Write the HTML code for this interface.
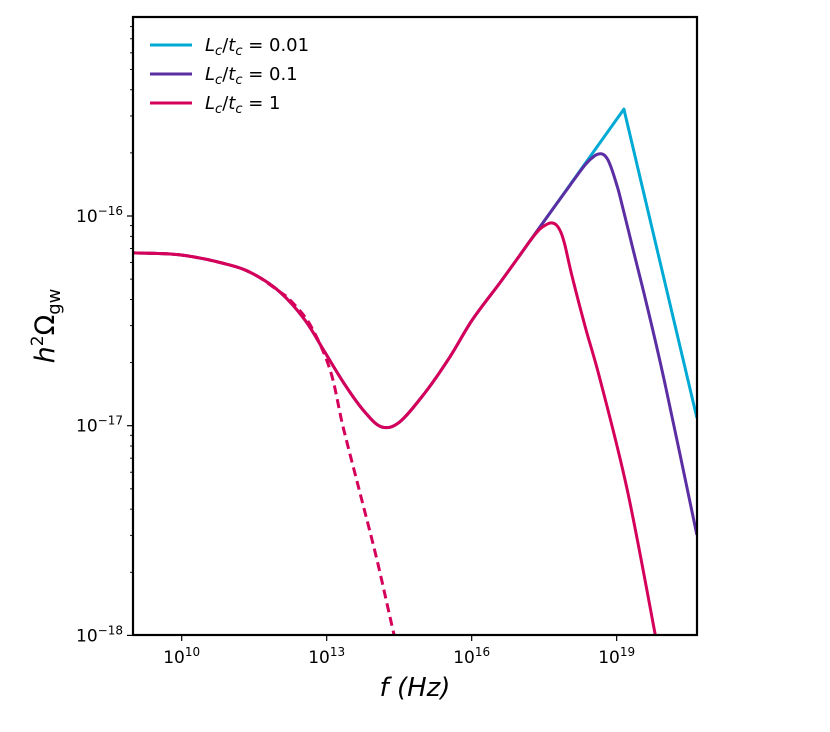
<!DOCTYPE html>
<html><head><meta charset="utf-8"><style>
body{margin:0;background:#fff;}
svg{display:block;font-family:"DejaVu Sans","Liberation Sans",sans-serif;}
</style></head><body>
<svg id="chart" width="830" height="732" viewBox="0 0 830 732" xmlns="http://www.w3.org/2000/svg">
<defs><clipPath id="plotclip"><rect x="133" y="17" width="564" height="618"/></clipPath></defs>
<rect x="0" y="0" width="830" height="732" fill="#fff"/>
<g id="ticks"></g>
<g id="series" clip-path="url(#plotclip)"></g>
<rect x="133" y="17" width="564" height="618" fill="none" stroke="#000" stroke-width="2.2"/>
<text transform="translate(54,326) rotate(-90)" text-anchor="middle" font-size="27"><tspan font-style="italic">h</tspan><tspan font-size="17" dy="-11">2</tspan><tspan dy="11">Ω</tspan><tspan font-size="18" dy="6">gw</tspan></text>
<text x="415" y="696" text-anchor="middle" font-size="26" font-style="italic">f (Hz)</text>
<g font-size="18">
<g><line x1="150" y1="45" x2="192" y2="45" stroke="#00aad4" stroke-width="3"/><text x="205" y="51"><tspan font-style="italic">L</tspan><tspan font-style="italic" font-size="13" dy="4">c</tspan><tspan dy="-4">/</tspan><tspan font-style="italic">t</tspan><tspan font-style="italic" font-size="13" dy="4">c</tspan><tspan dy="-4"> = 0.01</tspan></text></g>
<g><line x1="150" y1="74" x2="192" y2="74" stroke="#5b2ea3" stroke-width="3"/><text x="205" y="80"><tspan font-style="italic">L</tspan><tspan font-style="italic" font-size="13" dy="4">c</tspan><tspan dy="-4">/</tspan><tspan font-style="italic">t</tspan><tspan font-style="italic" font-size="13" dy="4">c</tspan><tspan dy="-4"> = 0.1</tspan></text></g>
<g><line x1="150" y1="103" x2="192" y2="103" stroke="#d4005a" stroke-width="3"/><text x="205" y="109"><tspan font-style="italic">L</tspan><tspan font-style="italic" font-size="13" dy="4">c</tspan><tspan dy="-4">/</tspan><tspan font-style="italic">t</tspan><tspan font-style="italic" font-size="13" dy="4">c</tspan><tspan dy="-4"> = 1</tspan></text></g>
</g>
</svg>
<script>
// data in log10 units
const commonLogF = [8.99,9.99,11.0,11.52,12.03,12.55,12.96,13.38,13.79,14.14,14.51,15.03,15.55,16.01,16.58,17.0];
const commonLogY = [-16.176,-16.186,-16.234,-16.281,-16.362,-16.496,-16.649,-16.806,-16.935,-17.006,-16.982,-16.844,-16.672,-16.496,-16.320,-16.186];
const cyanLogF = [17.0,17.83,19.15,20.66];
const cyanLogY = [-16.186,-15.918,-15.490,-16.963];
const purpleLogF = [17.0,17.52,18.03,18.35,18.55,18.66,18.74,18.82,18.905,18.99,19.07,19.35,19.62,20.0,20.66];
const purpleLogY = [-16.186,-16.018,-15.855,-15.755,-15.712,-15.703,-15.709,-15.733,-15.781,-15.843,-15.909,-16.17,-16.42,-16.80,-17.521];
const magentaLogF = [17.0,17.21,17.40,17.55,17.66,17.76,17.85,17.93,18.08,18.35,18.66,19.22,19.80];
const magentaLogY = [-16.186,-16.118,-16.065,-16.04,-16.033,-16.045,-16.08,-16.14,-16.29,-16.53,-16.782,-17.307,-17.998];
const dashedLogF = [8.99,9.99,11.0,11.52,12.03,12.24,12.66,13.07,13.34,13.69,14.04,14.37,14.45];
const dashedLogY = [-16.176,-16.186,-16.234,-16.281,-16.362,-16.40,-16.52,-16.734,-17.006,-17.321,-17.640,-17.974,-18.05];
const xTickExps = [10,13,16,19];
const yTickExps = [-16,-17,-18];

const NS="http://www.w3.org/2000/svg";
function xs(L){return 181.7+(L-10)*48.33;}
function ys(L){return 216+(-16-L)*209.7;}
const series=document.getElementById('series');
const ticks=document.getElementById('ticks');
function path(fx,fy,color,dash,name,smooth){
  const p=document.createElementNS(NS,'path');
  const P=fx.map((f,i)=>[xs(f),ys(fy[i])]);
  let d='M'+P[0][0].toFixed(1)+','+P[0][1].toFixed(1);
  for(let i=0;i<P.length-1;i++){
    if(!smooth){d+='L'+P[i+1][0].toFixed(1)+','+P[i+1][1].toFixed(1);continue;}
    const p0=P[Math.max(0,i-1)],p1=P[i],p2=P[i+1],p3=P[Math.min(P.length-1,i+2)];
    const c1=[p1[0]+(p2[0]-p0[0])/6,p1[1]+(p2[1]-p0[1])/6];
    const c2=[p2[0]-(p3[0]-p1[0])/6,p2[1]-(p3[1]-p1[1])/6];
    d+='C'+c1[0].toFixed(1)+','+c1[1].toFixed(1)+' '+c2[0].toFixed(1)+','+c2[1].toFixed(1)+' '+p2[0].toFixed(1)+','+p2[1].toFixed(1);
  }
  p.setAttribute('d',d);p.setAttribute('fill','none');p.setAttribute('stroke',color);
  p.setAttribute('stroke-width','3');p.setAttribute('stroke-linejoin','round');
  if(dash)p.setAttribute('stroke-dasharray',dash);
  
  
  series.appendChild(p);
}
path(cyanLogF,cyanLogY,'#00aad4',null,'line-lc-0.01',false);
path(commonLogF.concat(purpleLogF.slice(1)),commonLogY.concat(purpleLogY.slice(1)),'#5b2ea3',null,'line-lc-0.1',true);
path(commonLogF.concat(magentaLogF.slice(1)),commonLogY.concat(magentaLogY.slice(1)),'#d4005a',null,'line-lc-1',true);
path(dashedLogF,dashedLogY,'#d4005a','9,5','dashed-line-lc-1',true);
function mk(tag,attrs){const e=document.createElementNS(NS,tag);for(const k in attrs)e.setAttribute(k,attrs[k]);ticks.appendChild(e);return e;}
xTickExps.forEach(e=>{
  const x=xs(e);
  const t=mk('line',{x1:x,y1:635,x2:x,y2:641,stroke:'#000','stroke-width':1.2});
  
  
  const tx=mk('text',{x:x,y:663,'text-anchor':'middle','font-size':17});
  tx.innerHTML='10<tspan font-size="12" dy="-7">'+e+'</tspan>';
  
  
});
yTickExps.forEach(e=>{
  const y=ys(e);
  const t=mk('line',{x1:127,y1:y,x2:133,y2:y,stroke:'#000','stroke-width':1.2});
  
  
  const tx=mk('text',{x:123,y:y+6,'text-anchor':'end','font-size':17});
  tx.innerHTML='10<tspan font-size="12" dy="-7">\u2212'+(-e)+'</tspan>';
  
  
  for(let m=2;m<=9;m++){
    const ym=ys(e+Math.log10(m));
    if(ym<17)continue;
    const mt=mk('line',{x1:130,y1:ym,x2:133,y2:ym,stroke:'#000','stroke-width':0.9});
    
    
  }
});
</script>
</body></html>
